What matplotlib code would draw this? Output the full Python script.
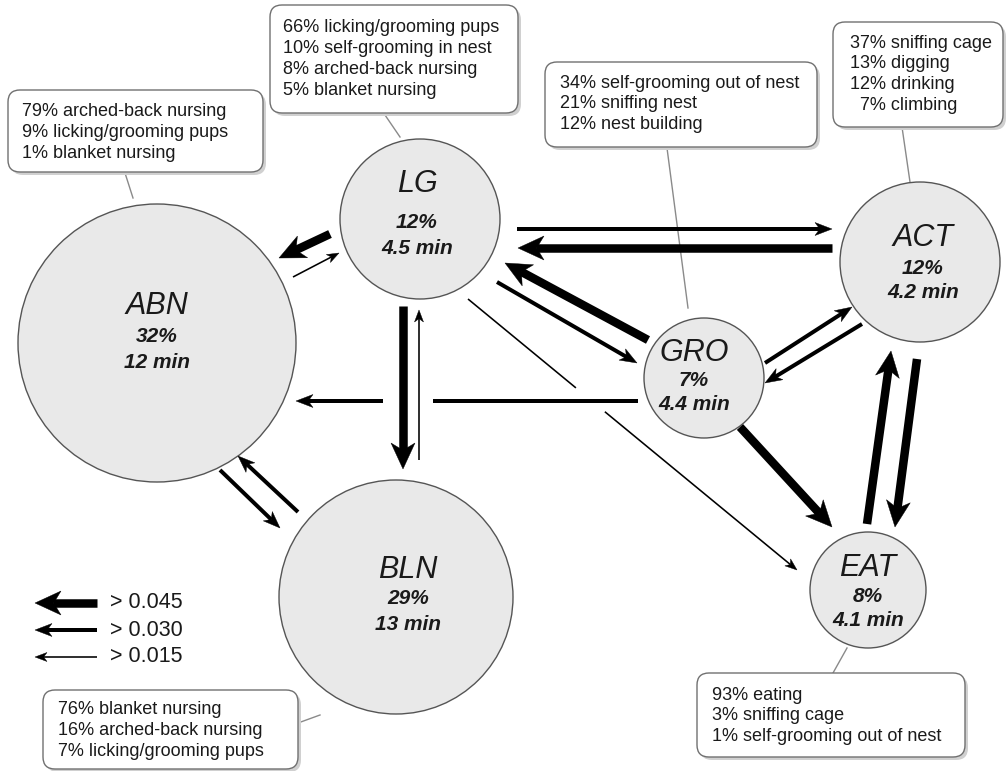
import numpy as np
import matplotlib.pyplot as plt
from matplotlib.patches import Circle, FancyBboxPatch, Polygon

plt.rcParams['font.family'] = ['Liberation Sans', 'DejaVu Sans']

# 节点数据：状态名、时间占比、平均持续时间
names = ['ABN', 'LG', 'BLN', 'GRO', 'ACT', 'EAT']
pct = [32, 12, 29, 7, 12, 8]
mins = ['12', '4.5', '13', '4.4', '4.2', '4.1']

# 每个状态包含的行为组成
details = {
    'ABN': ['79% arched-back nursing', '9% licking/grooming pups', '1% blanket nursing'],
    'LG': ['66% licking/grooming pups', '10% self-grooming in nest',
           '8% arched-back nursing', '5% blanket nursing'],
    'GRO': ['34% self-grooming out of nest', '21% sniffing nest', '12% nest building'],
    'ACT': ['37% sniffing cage', '13% digging', '12% drinking', '  7% climbing'],
    'EAT': ['93% eating', '3% sniffing cage', '1% self-grooming out of nest'],
    'BLN': ['76% blanket nursing', '16% arched-back nursing', '7% licking/grooming pups'],
}

# 状态转移：起点、终点、强度等级 (0: >0.045, 1: >0.030, 2: >0.015)
src = ['LG', 'ABN', 'LG', 'ACT', 'GRO', 'LG', 'LG', 'GRO', 'LG',
       'BLN', 'ABN', 'BLN', 'GRO', 'ACT', 'GRO', 'EAT', 'ACT']
dst = ['ABN', 'LG', 'ACT', 'LG', 'LG', 'GRO', 'EAT', 'ABN', 'BLN',
       'LG', 'BLN', 'ABN', 'ACT', 'GRO', 'EAT', 'ACT', 'EAT']
level = [0, 2, 1, 0, 0, 1, 2, 1, 0, 2, 1, 1, 1, 1, 0, 0, 0]
thresholds = ['0.045', '0.030', '0.015']

# ---------------- 布局（像素坐标） ----------------
# 圆心 x, y, 半径
node_pos = {
    'ABN': (157, 343, 139), 'LG': (420, 219, 80), 'BLN': (396, 597, 117),
    'GRO': (704, 378, 60), 'ACT': (920, 262, 80), 'EAT': (868, 590, 58),
}
# 文字位置：中心 x，名称 y，百分比 y，时长 y
label_pos = {
    'ABN': (157, 306, 336, 363), 'LG': (417, 184, 222, 249),
    'BLN': (408, 570, 599, 624), 'GRO': (694, 353, 381, 404),
    'ACT': (923, 238, 268, 293), 'EAT': (868, 568, 597, 621),
}
# 每条箭头的起点与终点，gap 为被交叉线打断的区间（按长度比例）
edge_xy = [
    (330, 234, 279, 258), (293, 277, 339, 253), (517, 229, 832, 229),
    (832, 248, 518, 248), (648, 340, 505, 263), (497, 282, 637, 363),
    (468, 299, 797, 570), (638, 401, 296, 401), (403, 306, 403, 469),
    (419, 460, 419, 310), (220, 470, 280, 528), (298, 512, 238, 456),
    (765, 363, 852, 307), (862, 324, 765, 383), (740, 427, 832, 527),
    (867, 524, 891, 351), (917, 359, 895, 527),
]
edge_gap = {6: (0.328, 0.416), 7: (0.599, 0.746)}

# 文本框：左、上、右、下，文字起点 x，首行 y
box_pos = {
    'ABN': (8, 90, 263, 172, 22, 112), 'LG': (270, 5, 518, 113, 283, 28),
    'GRO': (545, 62, 817, 147, 560, 83), 'ACT': (833, 22, 1003, 127, 850, 43),
    'EAT': (697, 673, 965, 757, 712, 695), 'BLN': (43, 690, 298, 769, 58, 710),
}
line_gap = 20.8
# 文本框到圆的连接线
link_xy = {
    'ABN': (125, 173, 133, 198), 'LG': (385, 115, 400, 137),
    'GRO': (667, 148, 688, 308), 'ACT': (902, 127, 910, 182),
    'EAT': (833, 673, 847, 648), 'BLN': (298, 723, 320, 715),
}

# 箭头样式：杆宽(px)、箭头长、箭头宽
shaft_px = [8.5, 4.0, 1.6]
head_len = [26, 17, 12]
head_w = [24, 13, 9]

fig = plt.figure(figsize=(10.06, 7.71), dpi=100)
ax = fig.add_axes([0, 0, 1, 1])
ax.set_xlim(0, 1006)
ax.set_ylim(771, 0)
ax.axis('off')


def draw_arrow(x0, y0, x1, y1, k, gap=None):
    p0 = np.array([x0, y0], float)
    p1 = np.array([x1, y1], float)
    d = p1 - p0
    L = np.hypot(*d)
    u = d / L
    n = np.array([-u[1], u[0]])
    hl, hw = head_len[k], head_w[k]
    base = p1 - u * hl * 0.7
    if gap is None:
        segs = [(p0, base)]
    else:
        segs = [(p0, p0 + u * L * gap[0]), (p0 + u * L * gap[1], base)]
    for a, b in segs:
        ax.plot([a[0], b[0]], [a[1], b[1]], color='black',
                lw=shaft_px[k] * 0.72, solid_capstyle='butt', zorder=3)
    head = [p1, p1 - u * hl + n * hw / 2, p1 - u * hl * 0.72, p1 - u * hl - n * hw / 2]
    ax.add_patch(Polygon(head, closed=True, fc='black', ec='black', lw=0.3, zorder=3))


# 连接线
for nm, (ax0, ay0, ax1, ay1) in link_xy.items():
    ax.plot([ax0, ax1], [ay0, ay1], color='#8a8a8a', lw=1.0, zorder=1)

# 圆形节点
for i, nm in enumerate(names):
    cx, cy, r = node_pos[nm]
    ax.add_patch(Circle((cx, cy), r, fc='#e9e9e9', ec='#555555', lw=1.0, zorder=2))
    tx, y_name, y_pct, y_min = label_pos[nm]
    ax.text(tx, y_name, nm, ha='center', va='center', fontsize=22,
            style='italic', color='#1a1a1a', zorder=4)
    ax.text(tx, y_pct, f'{pct[i]}%', ha='center', va='center', fontsize=15,
            style='italic', weight='bold', color='#1a1a1a', zorder=4)
    ax.text(tx, y_min, f'{mins[i]} min', ha='center', va='center', fontsize=15,
            style='italic', weight='bold', color='#1a1a1a', zorder=4)

# 转移箭头
for j in range(len(src)):
    x0, y0, x1, y1 = edge_xy[j]
    draw_arrow(x0, y0, x1, y1, level[j], edge_gap.get(j))

# 文本框
for nm, (l, t, r, b, tx, ty) in box_pos.items():
    ax.add_patch(FancyBboxPatch((l + 3, t + 3), r - l, b - t,
                                boxstyle='round,pad=0,rounding_size=12',
                                fc='#d0d0d0', ec='none', zorder=4))
    ax.add_patch(FancyBboxPatch((l, t), r - l, b - t,
                                boxstyle='round,pad=0,rounding_size=12',
                                fc='white', ec='#707070', lw=1.0, zorder=5))
    for m, line in enumerate(details[nm]):
        ax.text(tx, ty + m * line_gap, line, ha='left', va='center',
                fontsize=13, color='#1a1a1a', zorder=6)

# 图例
legend_y = [603, 630, 657]
for k in range(3):
    draw_arrow(97, legend_y[k], 35, legend_y[k], k)
    ax.text(110, legend_y[k], '> ' + thresholds[k], ha='left', va='center',
            fontsize=15.5, color='#1a1a1a')

plt.savefig('out.png', dpi=100)
